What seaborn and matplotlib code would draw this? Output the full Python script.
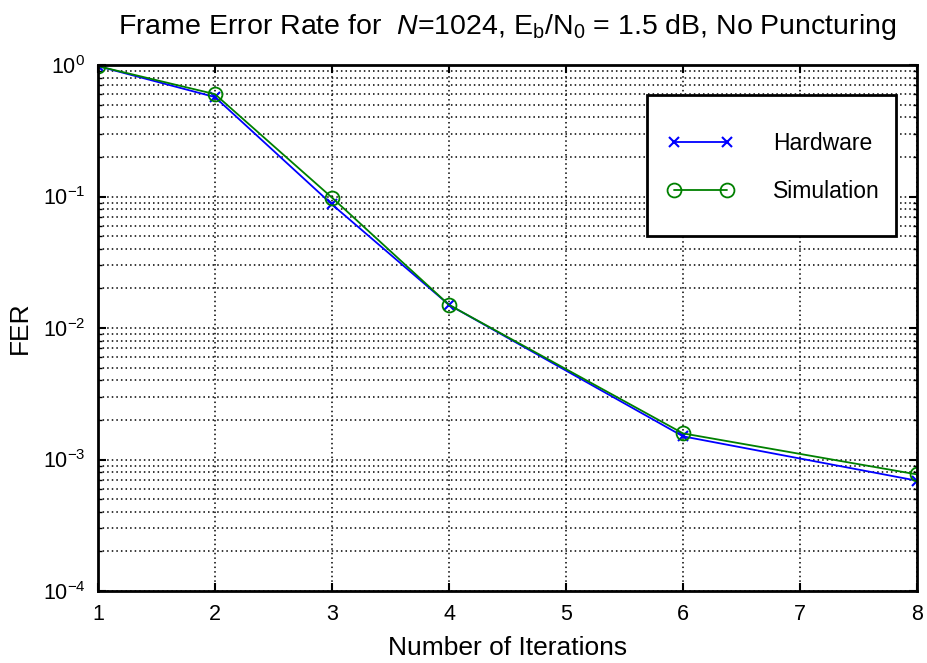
import matplotlib
matplotlib.use("Agg")
import matplotlib.pyplot as plt
import seaborn as sns
import numpy as np
import pandas as pd
from matplotlib.ticker import LogLocator, FixedLocator
from matplotlib.patches import Rectangle

iterations = [1, 2, 3, 4, 6, 8]
hardware_fer = [0.98, 0.57, 0.087, 0.0150, 0.00150, 0.00069]
simulation_fer = [0.98, 0.60, 0.098, 0.0150, 0.00158, 0.00077]
x_ticks = [1, 2, 3, 4, 5, 6, 7, 8]

sns.set_theme(style="white")
plt.rcParams['font.family'] = ['Liberation Sans', 'DejaVu Sans']
plt.rcParams['mathtext.fontset'] = 'custom'
plt.rcParams['mathtext.rm'] = 'Liberation Sans'
plt.rcParams['mathtext.it'] = 'Liberation Sans:italic'
plt.rcParams['mathtext.bf'] = 'Liberation Sans:bold'
plt.rcParams['text.color'] = 'black'
plt.rcParams['axes.labelcolor'] = 'black'
plt.rcParams['xtick.color'] = 'black'
plt.rcParams['ytick.color'] = 'black'

W, H = 927, 663
fig = plt.figure(figsize=(W/100, H/100), dpi=100)
ax = fig.add_axes([98/W, 72/H, (917-98)/W, (591-65)/H])

df_hw = pd.DataFrame({"it": iterations, "fer": hardware_fer})
df_sim = pd.DataFrame({"it": iterations, "fer": simulation_fer})

sns.lineplot(data=df_hw, x="it", y="fer", ax=ax, color="#0000FF", marker="x",
             markersize=7, markeredgewidth=1.5, markeredgecolor="#0000FF",
             linewidth=1.3, label="Hardware")
sns.lineplot(data=df_sim, x="it", y="fer", ax=ax, color="#008000", marker="o",
             markersize=10, markerfacecolor="none", markeredgecolor="#008000",
             markeredgewidth=1.3, linewidth=1.3, label="Simulation")

ax.set_yscale("log")
ax.set_xlim(1, 8)
ax.set_ylim(1e-4, 1e0)
ax.xaxis.set_major_locator(FixedLocator(x_ticks))
ax.set_xticklabels([str(t) for t in x_ticks])
ax.yaxis.set_major_locator(LogLocator(base=10, numticks=10))
ax.yaxis.set_minor_locator(LogLocator(base=10, subs=np.arange(2, 10), numticks=20))

ax.grid(True, which="major", axis="both", linestyle=(0, (1, 2)), color="black", linewidth=1.1)
ax.grid(True, which="minor", axis="y", linestyle=(0, (1, 2)), color="black", linewidth=1.1)
ax.set_axisbelow(True)

for s in ax.spines.values():
    s.set_color("black")
    s.set_linewidth(2.0)
    s.set_visible(True)

ax.tick_params(axis="both", which="major", direction="in", length=6, width=1.5,
               labelsize=15.5, colors="black", pad=9)
ax.tick_params(axis="y", which="minor", direction="in", length=3, width=1, left=True)
ax.tick_params(axis="x", which="major", bottom=True, top=True)
ax.tick_params(axis="y", which="both", left=True, right=True)

ax.set_xlabel("Number of Iterations", fontsize=19, color="black", labelpad=8)
ax.set_ylabel("FER", fontsize=19, color="black", labelpad=8)
ax.set_title(r"Frame Error Rate for  $\it{N}$=1024, E$_\mathrm{b}$/N$_0$ = 1.5 dB, No Puncturing",
             fontsize=20.5, color="black", pad=22)

# legend box frame
bx0, bx1, by0, by1 = 647, 896, 95, 236
frame = Rectangle((bx0/W, 1 - by1/H), (bx1-bx0)/W, (by1-by0)/H, transform=fig.transFigure,
                  facecolor="white", edgecolor="black", linewidth=2.0, zorder=5)
fig.patches.append(frame)

handles, labels = ax.get_legend_handles_labels()
ax.get_legend().remove()
leg = fig.legend(handles, labels, loc="center", numpoints=2,
                 bbox_to_anchor=((bx0+bx1)/2/W + 2/W, 1 - (by0+by1)/2/H - 2/H),
                 bbox_transform=fig.transFigure, fontsize=16.5, frameon=False,
                 borderpad=0.0, labelspacing=1.05, handlelength=2.9, handletextpad=1.7,
                 borderaxespad=0)
for t in leg.get_texts():
    t.set_color("black")
leg.set_zorder(6)

fig.savefig("out.png", dpi=100, facecolor="white")
